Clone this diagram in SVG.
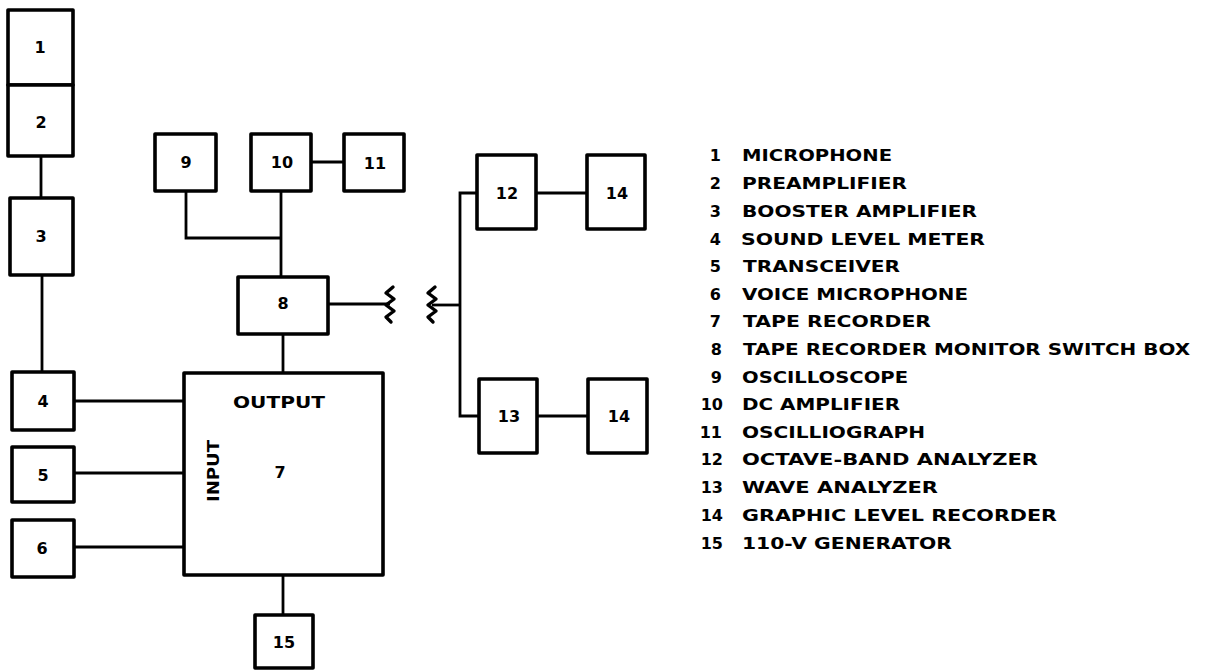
<svg xmlns="http://www.w3.org/2000/svg" width="1224" height="670" viewBox="0 0 1224 670">
<style>
.box{fill:#fff;stroke:#000;stroke-width:3.6;stroke-linejoin:round}
.ln{fill:none;stroke:#000;stroke-width:2.8;stroke-linejoin:miter}
.zz{fill:none;stroke:#000;stroke-width:3.4;stroke-linejoin:round;stroke-linecap:round}
.lbl{font-family:"DejaVu Sans",sans-serif;font-weight:bold;font-size:16px;fill:#000;text-anchor:middle;dominant-baseline:central}
.lg{font-family:"DejaVu Sans",sans-serif;font-weight:bold;font-size:16px;fill:#000;dominant-baseline:central}
.num{text-anchor:end}
</style>
<rect width="1224" height="670" fill="#fff"/>
<g id="connectors">
<line class="ln" x1="41" y1="156" x2="41" y2="198"/>
<line class="ln" x1="42" y1="275" x2="42" y2="372"/>
<line class="ln" x1="74" y1="401" x2="184" y2="401"/>
<line class="ln" x1="74" y1="473" x2="184" y2="473"/>
<line class="ln" x1="74" y1="547" x2="184" y2="547"/>
<line class="ln" x1="283" y1="575" x2="283" y2="615"/>
<line class="ln" x1="283" y1="334" x2="283" y2="373"/>
<polyline class="ln" points="186,191 186,238 281,238"/>
<line class="ln" x1="281" y1="191" x2="281" y2="277"/>
<line class="ln" x1="311" y1="162" x2="344" y2="162"/>
<line class="ln" x1="328" y1="304" x2="390" y2="304"/>
<path class="zz" d="M393 287 L386 293 L394 299 L386 305 L394 311 L386 317 L391 322"/>
<path class="zz" d="M435 287 L428 293 L436 299 L428 305 L436 311 L428 317 L433 322"/>
<line class="ln" x1="432" y1="305" x2="460" y2="305"/>
<polyline class="ln" points="477,193 460,193 460,416 479,416"/>
<line class="ln" x1="536" y1="193" x2="587" y2="193"/>
<line class="ln" x1="537" y1="416" x2="588" y2="416"/>
</g>
<g id="n1"><rect class="box" x="8" y="10" width="65" height="75"/><text class="lbl" x="40" y="47">1</text></g>
<g id="n2"><rect class="box" x="8" y="85" width="65" height="71"/><text class="lbl" x="41" y="122">2</text></g>
<g id="n3"><rect class="box" x="10" y="198" width="63" height="77"/><text class="lbl" x="41" y="236">3</text></g>
<g id="n4"><rect class="box" x="12" y="372" width="62" height="58"/><text class="lbl" x="43" y="401">4</text></g>
<g id="n5"><rect class="box" x="12" y="447" width="62" height="55"/><text class="lbl" x="43" y="475">5</text></g>
<g id="n6"><rect class="box" x="12" y="520" width="62" height="57"/><text class="lbl" x="42" y="548">6</text></g>
<g id="n7"><rect class="box" x="184" y="373" width="199" height="202"/>
<text class="lbl" x="279" y="402" textLength="92" lengthAdjust="spacingAndGlyphs">OUTPUT</text>
<text class="lbl" x="213" y="471" transform="rotate(-90 213 471)" textLength="62" lengthAdjust="spacingAndGlyphs">INPUT</text>
<text class="lbl" x="280" y="472">7</text></g>
<g id="n8"><rect class="box" x="238" y="277" width="90" height="57"/><text class="lbl" x="283" y="303">8</text></g>
<g id="n9"><rect class="box" x="155" y="134" width="61" height="57"/><text class="lbl" x="186" y="162">9</text></g>
<g id="n10"><rect class="box" x="251" y="134" width="60" height="57"/><text class="lbl" x="282" y="162">10</text></g>
<g id="n11"><rect class="box" x="344" y="134" width="60" height="57"/><text class="lbl" x="375" y="163">11</text></g>
<g id="n12"><rect class="box" x="477" y="155" width="59" height="74"/><text class="lbl" x="507" y="193">12</text></g>
<g id="n14a"><rect class="box" x="587" y="155" width="58" height="74"/><text class="lbl" x="617" y="193">14</text></g>
<g id="n13"><rect class="box" x="479" y="379" width="58" height="74"/><text class="lbl" x="509" y="416">13</text></g>
<g id="n14b"><rect class="box" x="588" y="379" width="59" height="74"/><text class="lbl" x="619" y="416">14</text></g>
<g id="n15"><rect class="box" x="255" y="615" width="58" height="53"/><text class="lbl" x="284" y="642">15</text></g>
<g id="legend">
<text class="lg num" x="721" y="155">1</text><text class="lg" x="742" y="155" textLength="150" lengthAdjust="spacingAndGlyphs">MICROPHONE</text>
<text class="lg num" x="721" y="183">2</text><text class="lg" x="742" y="183" textLength="165" lengthAdjust="spacingAndGlyphs">PREAMPLIFIER</text>
<text class="lg num" x="721" y="211">3</text><text class="lg" x="742" y="211" textLength="235" lengthAdjust="spacingAndGlyphs">BOOSTER AMPLIFIER</text>
<text class="lg num" x="721" y="239">4</text><text class="lg" x="741" y="239" textLength="244" lengthAdjust="spacingAndGlyphs">SOUND LEVEL METER</text>
<text class="lg num" x="721" y="266">5</text><text class="lg" x="743" y="266" textLength="157" lengthAdjust="spacingAndGlyphs">TRANSCEIVER</text>
<text class="lg num" x="721" y="294">6</text><text class="lg" x="742" y="294" textLength="226" lengthAdjust="spacingAndGlyphs">VOICE MICROPHONE</text>
<text class="lg num" x="721" y="321">7</text><text class="lg" x="743" y="321" textLength="188" lengthAdjust="spacingAndGlyphs">TAPE RECORDER</text>
<text class="lg num" x="722" y="349">8</text><text class="lg" x="743" y="349" textLength="447" lengthAdjust="spacingAndGlyphs">TAPE RECORDER MONITOR SWITCH BOX</text>
<text class="lg num" x="722" y="377">9</text><text class="lg" x="742" y="377" textLength="166" lengthAdjust="spacingAndGlyphs">OSCILLOSCOPE</text>
<text class="lg num" x="723" y="404">10</text><text class="lg" x="742" y="404" textLength="158" lengthAdjust="spacingAndGlyphs">DC AMPLIFIER</text>
<text class="lg num" x="722" y="432">11</text><text class="lg" x="742" y="432" textLength="183" lengthAdjust="spacingAndGlyphs">OSCILLIOGRAPH</text>
<text class="lg num" x="723" y="459">12</text><text class="lg" x="742" y="459" textLength="296" lengthAdjust="spacingAndGlyphs">OCTAVE-BAND ANALYZER</text>
<text class="lg num" x="723" y="487">13</text><text class="lg" x="742" y="487" textLength="196" lengthAdjust="spacingAndGlyphs">WAVE ANALYZER</text>
<text class="lg num" x="723" y="515">14</text><text class="lg" x="742" y="515" textLength="315" lengthAdjust="spacingAndGlyphs">GRAPHIC LEVEL RECORDER</text>
<text class="lg num" x="723" y="543">15</text><text class="lg" x="742" y="543" textLength="210" lengthAdjust="spacingAndGlyphs">110-V GENERATOR</text>
</g>
</svg>
